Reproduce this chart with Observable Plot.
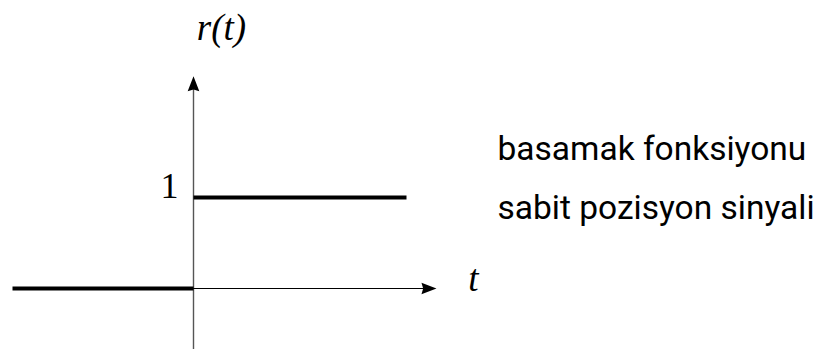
<!DOCTYPE html>
<html>
<head>
<meta charset="utf-8">
<script src="https://cdn.jsdelivr.net/npm/d3@7"></script>
<script src="https://cdn.jsdelivr.net/npm/@observablehq/plot@0.6"></script>
<style>
  html, body { margin: 0; padding: 0; background: #fff; }
  #chart svg { display: block; }
</style>
</head>
<body>
<div id="chart"></div>
<script>
// Step function r(t): 0 for t<0, 1 for t>=0
const lowSegment = [{t: -1.81, r: 0}, {t: 0, r: 0}];
const highSegment = [{t: 0, r: 1}, {t: 2.13, r: 1}];
const rAxisBottom = -0.67;
const levelLabels = [{t: -0.15, r: 1.126, text: "1"}];
const axisTitles = [
  {t: 0.28, r: 2.863, text: "r(t)"},
  {t: 2.80, r: 0.098, text: "t"}
];
const descriptions = [
  {t: 3.04, r: 1.526, text: "basamak fonksiyonu"},
  {t: 3.04, r: 0.878, text: "sabit pozisyon sinyali"}
];

const arrowHead = {
  draw(ctx, size) {
    const l = Math.sqrt(size / Math.PI) * 1.77;
    ctx.moveTo(l, 0);
    ctx.lineTo(-0.6 * l, -0.62 * l);
    ctx.lineTo(-0.42 * l, 0);
    ctx.lineTo(-0.6 * l, 0.62 * l);
    ctx.closePath();
  }
};

const chart = Plot.plot({
  width: 822,
  height: 349,
  marginTop: 0, marginRight: 0, marginBottom: 0, marginLeft: 0,
  x: {domain: [-1.93, 6.29], axis: null},
  y: {domain: [-0.6703, 3.1648], axis: null},
  marks: [
    Plot.ruleX([0], {y1: rAxisBottom, y2: 2.2, stroke: "#555", strokeWidth: 1.4}),
    Plot.ruleY([0], {x1: 0, x2: 2.32, stroke: "#000", strokeWidth: 1.2}),
    Plot.dot([{t: 2.336, r: 0}], {x: "t", y: "r", symbol: arrowHead, r: 5.3, fill: "#000", stroke: null}),
    Plot.dot([{t: 0, r: 2.23}], {x: "t", y: "r", symbol: arrowHead, r: 5.3, rotate: -90, fill: "#000", stroke: null}),
    Plot.line(lowSegment, {x: "t", y: "r", stroke: "#000", strokeWidth: 4, strokeLinecap: "butt"}),
    Plot.line(highSegment, {x: "t", y: "r", stroke: "#000", strokeWidth: 4, strokeLinecap: "butt"}),
    Plot.text(levelLabels, {x: "t", y: "r", text: "text", textAnchor: "end", fontSize: 36, fontFamily: "Liberation Serif", fill: "#000"}),
    Plot.text(axisTitles, {x: "t", y: "r", text: "text", fontSize: 37, fontStyle: "italic", fontFamily: "Liberation Serif", fill: "#000"}),
    Plot.text(descriptions, {x: "t", y: "r", text: "text", textAnchor: "start", fontSize: 33.5, fontFamily: "Roboto", fill: "#000"})
  ]
});
document.getElementById("chart").appendChild(chart);
</script>
</body>
</html>
